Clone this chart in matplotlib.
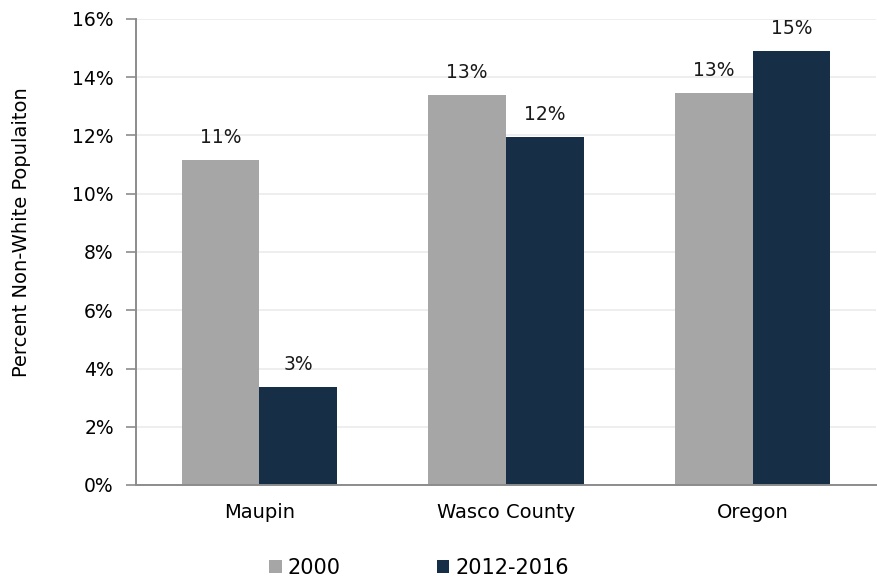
import matplotlib.pyplot as plt
import numpy as np

# === DATA ===
places = ['Maupin', 'Wasco County', 'Oregon']
pct_2000 = [11.15, 13.4, 13.45]
pct_2016 = [3.35, 11.95, 14.9]
series_names = ['2000', '2012-2016']

GRAY = '#a6a6a6'
NAVY = '#172e47'

plt.rcParams['font.family'] = ['DejaVu Sans']

fig = plt.figure(figsize=(8.78, 5.83), dpi=100)
ax = fig.add_axes([136 / 878, 1 - 485 / 583, 740 / 878, 466 / 583])

x = np.arange(len(places))
w = 0.315
b1 = ax.bar(x - w / 2, pct_2000, w, color=GRAY, label=series_names[0], zorder=2)
b2 = ax.bar(x + w / 2, pct_2016, w, color=NAVY, label=series_names[1], zorder=2)

for bars, vals in [(b1, pct_2000), (b2, pct_2016)]:
    for rect, v in zip(bars, vals):
        ax.text(rect.get_x() + rect.get_width() / 2, v + 0.45, f'{v:.0f}%',
                ha='center', va='bottom', fontsize=13.5, color='#1a1a1a')

ax.set_xlim(-0.5, 2.5)
ax.set_ylim(0, 16)
ax.set_yticks(range(0, 17, 2))
ax.set_yticklabels([f'{v}%' for v in range(0, 17, 2)], fontsize=13.5)
ax.set_xticks(x)
ax.set_xticklabels(places, fontsize=14)
ax.tick_params(axis='x', length=0, pad=13)
ax.tick_params(axis='y', length=7, width=1.2, color='#8c8c8c', pad=9)

ax.yaxis.grid(True, color='#ebebeb', linewidth=1.2, zorder=0)
ax.set_axisbelow(True)
for s in ['top', 'right']:
    ax.spines[s].set_visible(False)
for s in ['left', 'bottom']:
    ax.spines[s].set_color('#8c8c8c')
    ax.spines[s].set_linewidth(1.4)

fig.text(22 / 878, 1 - 232 / 583, 'Percent Non-White Populaiton', rotation=90,
         ha='center', va='center', fontsize=14)

fig.legend(handles=[b1, b2], labels=series_names, loc='center',
           bbox_to_anchor=(419 / 878, 1 - 568 / 583), ncol=2, frameon=False,
           fontsize=15, handlelength=0.6, handleheight=0.6, handletextpad=0.3,
           columnspacing=4.6)

fig.savefig('out.png', dpi=100)
